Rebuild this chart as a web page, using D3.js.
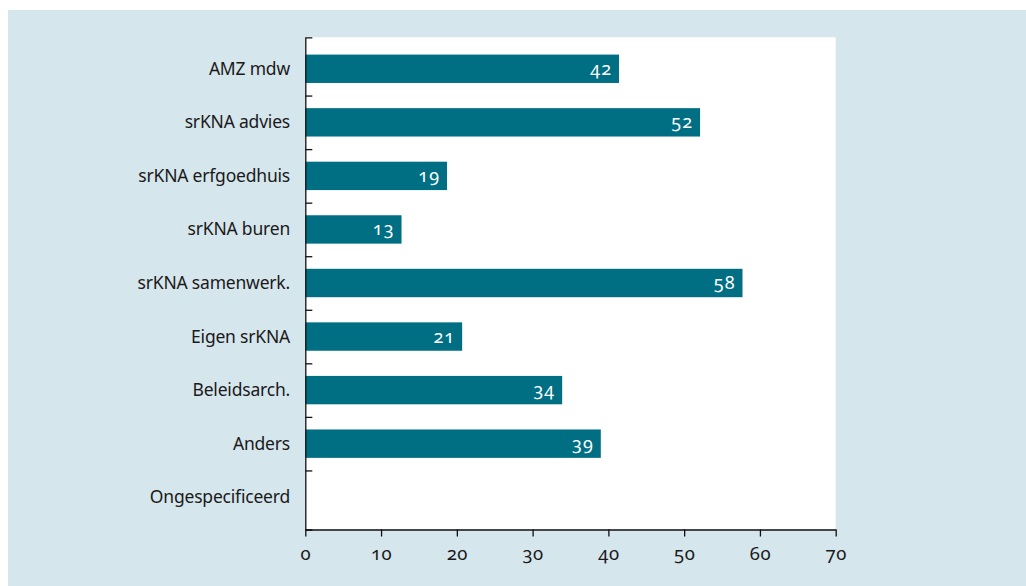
<!DOCTYPE html>
<html><head><meta charset="utf-8">
<script src="https://cdn.jsdelivr.net/npm/d3@7"></script>
<style>
html,body{margin:0;padding:0;background:#fff;}
svg{display:block;font-family:"Noto Sans",sans-serif;}
.num{font-feature-settings:"onum" 1;font-variant-numeric:oldstyle-nums;}
</style></head>
<body><svg id="chart" width="1026" height="586"></svg>
<script>
const categories = ["AMZ mdw","srKNA advies","srKNA erfgoedhuis","srKNA buren","srKNA samenwerk.","Eigen srKNA","Beleidsarch.","Anders","Ongespecificeerd"];
const values = [41.4, 52.1, 18.7, 12.7, 57.7, 20.7, 33.9, 39.0, 0];
const valueLabels = ["42","52","19","13","58","21","34","39",""];
const xTicks = [0,10,20,30,40,50,60,70];

const svg = d3.select("#chart");
const W = 1026, H = 586;
const plot = {left:305.3, right:835.7, top:37.3, bottom:529.5};

svg.append("rect").attr("x",8).attr("y",10).attr("width",W-8).attr("height",H-10).attr("fill","#d6e6ed");
svg.append("rect").attr("x",plot.left).attr("y",plot.top).attr("width",plot.right-plot.left).attr("height",plot.bottom-plot.top).attr("fill","#fff");

const x = d3.scaleLinear().domain([0,70]).range([plot.left, plot.right]);
const y = d3.scaleBand().domain(categories).range([42,524]).paddingInner(0.47).paddingOuter(0.235);

// bars
svg.append("g").selectAll("rect").data(categories).join("rect")
  .attr("x", x(0)).attr("y", d=>y(d))
  .attr("width", (d,i)=>x(values[i])-x(0)).attr("height", y.bandwidth())
  .attr("fill","#006f84");

// value labels
svg.append("g").selectAll("text").data(categories).join("text")
  .attr("class","num")
  .attr("x",(d,i)=>x(values[i])-7).attr("y",d=>y(d)+y.bandwidth()/2+6)
  .attr("text-anchor","end").attr("fill","#fff").attr("font-size",18).attr("letter-spacing",1)
  .text((d,i)=>valueLabels[i]);

// category labels
svg.append("g").selectAll("text").data(categories).join("text")
  .attr("x",290).attr("y",d=>y(d)+y.bandwidth()/2+6)
  .attr("text-anchor","end").attr("fill","#1a1a1a").attr("font-size",17.5).attr("letter-spacing",-0.2)
  .text(d=>d);

// y axis: separator ticks between categories
const sep = d3.scaleLinear().domain([0,categories.length]).range([42,524]);
const ySep = d3.scaleLinear().domain([sep.invert(plot.top), sep.invert(plot.bottom)]).range([plot.top, plot.bottom]);
const yAxis = svg.append("g").attr("transform",`translate(${plot.left},0)`)
  .call(d3.axisLeft(ySep).tickValues(d3.range(1,categories.length)).tickFormat("").tickSizeInner(-7).tickSizeOuter(-7));
yAxis.selectAll("path,line").attr("stroke","#111").attr("stroke-width",1.3);

// x axis
const xAxis = svg.append("g").attr("transform",`translate(0,${plot.bottom})`)
  .call(d3.axisBottom(x).tickValues(xTicks).tickSize(7).tickSizeOuter(0).tickPadding(10));
xAxis.selectAll("path,line").attr("stroke","#111").attr("stroke-width",1.3);
xAxis.selectAll("text").attr("class","num").attr("font-size",18.5).attr("letter-spacing",0.5).attr("fill","#1a1a1a").attr("font-family","Noto Sans");
</script></body></html>
